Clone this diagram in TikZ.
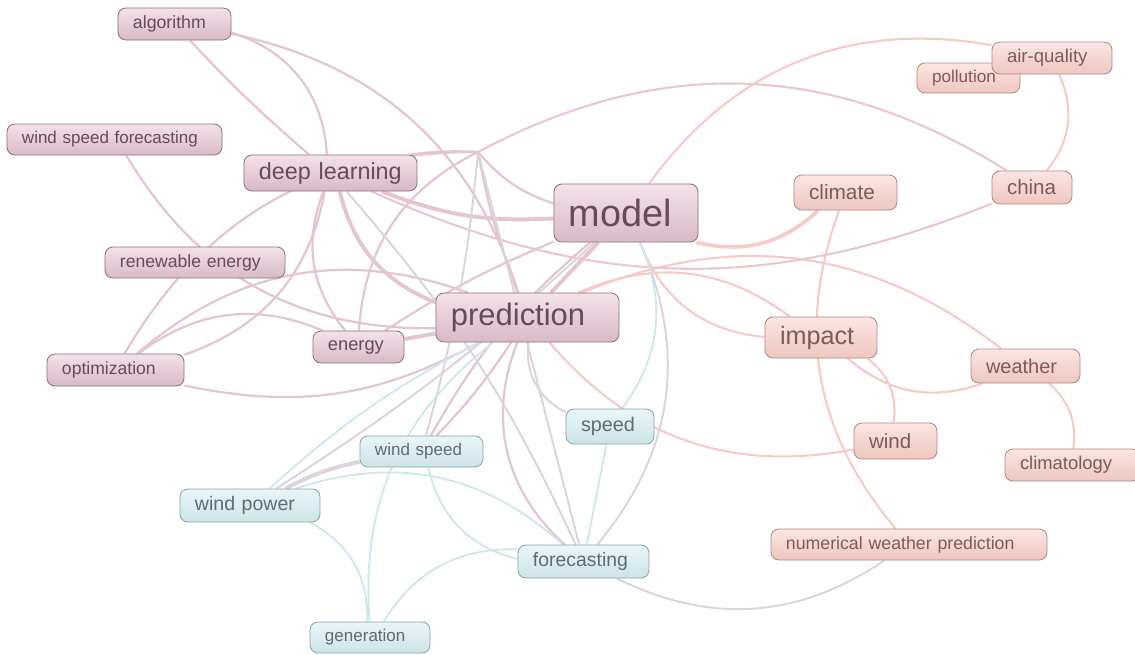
\documentclass[tikz,border=0pt]{standalone}
\usepackage{fontspec}
\setmainfont{Liberation Sans}
\usetikzlibrary{backgrounds}

% cluster colours
\definecolor{ptop}{HTML}{F4E2E9}
\definecolor{pbot}{HTML}{D9B9C7}
\definecolor{pline}{HTML}{8F7080}
\definecolor{ptext}{HTML}{694A5A}
\definecolor{rtop}{HTML}{FBE6E2}
\definecolor{rbot}{HTML}{EEC6BF}
\definecolor{rline}{HTML}{AE8A84}
\definecolor{rtext}{HTML}{7E5B56}
\definecolor{btop}{HTML}{E9F6F8}
\definecolor{bbot}{HTML}{CCE4E9}
\definecolor{bline}{HTML}{89A5AA}
\definecolor{btext}{HTML}{5D6D71}
% link colours
\definecolor{pedgec}{HTML}{E4C6D1}
\definecolor{redgec}{HTML}{F6CBC5}
\definecolor{bedgec}{HTML}{CFE7EC}
\definecolor{gedgec}{HTML}{DDD3DB}
\definecolor{kedgec}{HTML}{EBC6CC}

\newcommand{\kwfont}[1]{\fontsize{#1}{#1}\selectfont}

\begin{document}
\begin{tikzpicture}[x=0.025cm, y=-0.025cm,
    kw/.style={rounded corners=0.2cm, line width=0.6pt, inner xsep=0.375cm, inner ysep=0pt, align=left},
    kwp/.style={kw, draw=pline, top color=ptop, bottom color=pbot, text=ptext},
    kwr/.style={kw, draw=rline, top color=rtop, bottom color=rbot, text=rtext},
    kwb/.style={kw, draw=bline, top color=btop, bottom color=bbot, text=btext},
    pedge/.style={draw=pedgec, line width=1.6pt},
    pthick/.style={draw=pedgec, line width=2.8pt},
    redge/.style={draw=redgec, line width=1.5pt},
    rthick/.style={draw=redgec, line width=2.6pt},
    bedge/.style={draw=bedgec, line width=1.3pt},
    gedge/.style={draw=gedgec, line width=1.4pt},
    gthick/.style={draw=gedgec, line width=2.8pt},
    kedge/.style={draw=kedgec, line width=1.5pt}]

    \useasboundingbox (0,0) rectangle (1135,654);

    % Unlabelled term where many links meet
    \coordinate (hub) at (478,152);

    % Purple cluster
    \foreach \nm/\x/\y/\tw/\hh/\fsz/\txt in {%
        algorithm/174.5/24/2.075/0.8/12.6/algorithm,%
        wsf/114.5/139.5/4.625/0.775/12.1/wind speed forecasting,%
        deep/330.5/173/3.575/0.9/16.6/deep learning,%
        renew/195/262.5/3.75/0.775/12.5/renewable energy,%
        optim/115.5/370/2.675/0.8/12.5/optimization,%
        energy/358.5/347/1.525/0.8/13.0/energy,%
        pred/527.5/317.5/3.825/1.225/22.0/prediction,%
        model/626/213/2.85/1.45/26.9/model%
    } {
        \node[kwp, text width=\tw cm, minimum height=\hh cm, font=\kwfont{\fsz}] (\nm) at (\x,\y) {\txt};
    }

    % Red cluster
    \foreach \nm/\x/\y/\tw/\hh/\fsz/\txt in {%
        climate/845.5/192.5/1.825/0.875/14.8/climate,%
        china/1032/187.5/1.25/0.825/14.6/china,%
        pollution/968.5/78/1.825/0.75/12.2/pollution,%
        airq/1052/58/2.25/0.8/13.2/air-quality,%
        impact/821/337.5/2.05/1.025/17.9/impact,%
        weather/1025.5/366/1.975/0.85/14.2/weather,%
        wind/895.5/441/1.325/0.9/14.6/wind,%
        climatology/1072.5/465/2.625/0.8/13.1/climatology,%
        nwp/909/544.5/6.15/0.775/12.6/numerical weather prediction%
    } {
        \node[kwr, text width=\tw cm, minimum height=\hh cm, font=\kwfont{\fsz}] (\nm) at (\x,\y) {\txt};
    }

    % Blue cluster
    \foreach \nm/\x/\y/\tw/\hh/\fsz/\txt in {%
        speed/610/426.5/1.45/0.875/14.1/speed,%
        windspeed/421.5/451.5/2.325/0.775/12.1/wind speed,%
        windpower/250/505.5/2.75/0.825/13.9/wind power,%
        forecasting/583.5/561.5/2.525/0.825/13.8/forecasting,%
        generation/370/637.5/2.25/0.775/12.1/generation%
    } {
        \node[kwb, text width=\tw cm, minimum height=\hh cm, font=\kwfont{\fsz}] (\nm) at (\x,\y) {\txt};
    }

    % Links, behind the labels
    \begin{scope}[on background layer]
        \fill[white] (0,0) rectangle (1135,654);

        \foreach \a/\b/\bd in {%
            algorithm/deep/-3, algorithm/deep/35, algorithm/pred/30,%
            wsf/pred/-30, deep/optim/30, hub/optim/-30, hub/model/-15,%
            optim/pred/30, optim/energy/30, optim/pred/-20,%
            deep/energy/-30, deep/hub/5, energy/hub/30, energy/model/5,%
            hub/pred/-5, pred/windspeed/5, model/windspeed/-10, pred/forecasting/-35%
        } {
            \draw[pedge] (\a) to[bend left=\bd] (\b);
        }
        \foreach \a/\b/\bd in {deep/pred/-27, deep/model/-12, energy/pred/0, model/pred/0} {
            \draw[pthick] (\a) to[bend left=\bd] (\b);
        }

        \foreach \a/\b/\bd in {%
            model/airq/32, airq/china/32, climate/nwp/-30, impact/wind/30,%
            impact/weather/-30, pred/impact/30, pred/weather/30, model/impact/-32,%
            pred/wind/-30, weather/climatology/28%
        } {
            \draw[redge] (\a) to[bend left=\bd] (\b);
        }
        \draw[rthick] (model) to[bend left=-28] (climate);

        \foreach \a/\b/\bd in {hub/china/30, deep/china/-23} {
            \draw[kedge] (\a) to[bend left=\bd] (\b);
        }

        \foreach \a/\b/\bd in {%
            model/windpower/5, deep/forecasting/8, forecasting/nwp/-30,%
            model/forecasting/32, pred/speed/-35, hub/forecasting/0, hub/windspeed/5%
        } {
            \draw[gedge] (\a) to[bend left=\bd] (\b);
        }
        \draw[gthick] (windpower) to[bend left=8] (windspeed);

        \foreach \a/\b/\bd in {%
            windpower/pred/7, windpower/forecasting/30, windpower/generation/32,%
            pred/generation/-28, windspeed/forecasting/-32, generation/forecasting/30,%
            model/speed/30, speed/forecasting/0%
        } {
            \draw[bedge] (\a) to[bend left=\bd] (\b);
        }
    \end{scope}
\end{tikzpicture}
\end{document}
